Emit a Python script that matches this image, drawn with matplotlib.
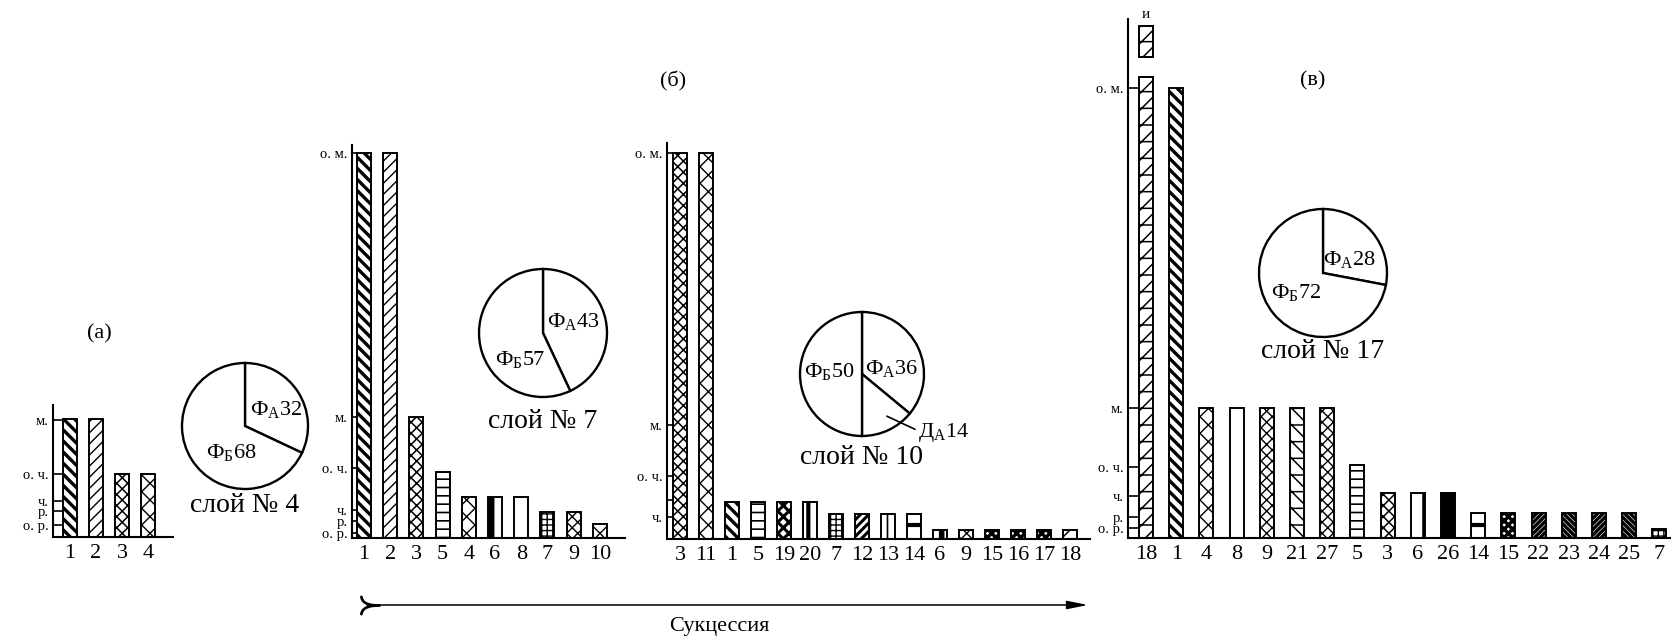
import numpy as np
import matplotlib
matplotlib.use("Agg")
import matplotlib.pyplot as plt

plt.rcParams['font.family'] = 'Liberation Serif'
plt.rcParams['mathtext.fontset'] = 'custom'
plt.rcParams['mathtext.rm'] = 'Liberation Serif'
plt.rcParams['hatch.linewidth'] = 1.2

W, H = 1671, 637

# (а) слой № 4 -- heights on the abundance scale of the panel
a_species = ['1', '2', '3', '4']
a_values = [118, 118, 63, 63]
a_ticks = [117, 63, 36, 26, 12]
a_ticklabels = ['м.', 'о. ч.', 'ч.', 'р.', 'о. р.']

# (б) слой № 7
b7_species = ['1', '2', '3', '5', '4', '6', '8', '7', '9', '10']
b7_values = [385, 385, 121, 66, 41, 41, 41, 26, 26, 14]
b7_ticks = [385, 121, 70, 28, 17, 5]
b7_ticklabels = ['о. м.', 'м.', 'о. ч.', 'ч.', 'р.', 'о. р.']

# (б) слой № 10
b10_species = ['3', '11', '1', '5', '19', '20', '7', '12', '13', '14',
               '6', '9', '15', '16', '17', '18']
b10_values = [386, 386, 37, 37, 37, 37, 25, 25, 25, 25, 9, 9, 9, 9, 9, 9]
b10_ticks = [386, 114, 63, 39, 22]
b10_ticklabels = ['о. м.', 'м.', 'о. ч.', '', 'ч.']

# (в) слой № 17
c_species = ['18', '1', '4', '8', '9', '21', '27', '5', '3', '6', '26',
             '14', '15', '22', '23', '24', '25', '7']
c_values = [461, 450, 130, 130, 130, 130, 130, 73, 45, 45, 45,
            25, 25, 25, 25, 25, 25, 9]
c_ticks = [450, 130, 71, 42, 21, 10]
c_ticklabels = ['о. м.', 'м.', 'о. ч.', 'ч.', 'р.', 'о. р.']
c_extra_bottom = 481   # separate "и" piece of species 18
c_extra_height = 31

# pies: Ф_А / Ф_Б (and Д_А)
pie4 = [32, 68]
pie7 = [43, 57]
pie10 = [36, 14, 50]
pie17 = [28, 72]

# hatch per species
hatches = {
    '1': ('\\\\\\', 2.4), '2': ('///', 1.0), '3': ('xxx', 1.1), '4': ('xx', 1.0),
    '5': ('--', 1.2), '6': ('|', 4.0), '7': ('+++', 1.0), '8': ('', 1.0),
    '9': ('xxx', 1.0), '10': ('xx', 1.0), '11': ('xx', 1.0), '12': ('////', 2.2),
    '13': ('||', 1.2), '14': ('-', 3.0), '15': ('xxxx', 2.4), '16': ('xxxx', 2.4),
    '17': ('xxxx', 2.4), '18': ('//-', 1.1), '19': ('xxx', 2.2), '20': ('|', 3.0),
    '21': ('\\\\-', 1.1), '22': ('//////', 2.4), '23': ('\\\\\\\\\\\\', 2.4),
    '24': ('//////', 2.4), '25': ('\\\\\\\\\\\\', 2.4), '26': ('||||', 3.0),
    '27': ('xxx', 1.0),
}

fig = plt.figure(figsize=(W / 100, H / 100), dpi=100)

ov = fig.add_axes([0, 0, 1, 1])
ov.set_xlim(0, W)
ov.set_ylim(H, 0)
ov.axis('off')


def draw_bar(ax, x, h, w, sp, bottom=0):
    hatch, hlw = hatches[sp]
    b = ax.bar(x, h, w, bottom=bottom, color='white', edgecolor='black',
               linewidth=1.4, hatch=hatch)
    for p in b:
        try:
            p.set_hatch_linewidth(hlw)
        except AttributeError:
            pass
    return b


def bar_panel(x0, top, x1, base, first, step, species, values, ticks, labels, ticklen):
    ax = fig.add_axes([x0 / W, (H - base) / H, (x1 - x0) / W, (base - top) / H])
    x = np.arange(len(species))
    left = -(first - x0) / step
    ax.set_xlim(left, left + (x1 - x0) / step)
    ax.set_ylim(0, base - top)
    w = 14 / step
    for i, sp in enumerate(species):
        draw_bar(ax, x[i], values[i], w, sp)
    ax.set_xticks(x, species)
    ax.tick_params(axis='x', length=0, pad=5, labelsize=16)
    ax.set_yticks(ticks, labels)
    ax.tick_params(axis='y', direction='in', length=ticklen, width=1.2,
                   pad=3, labelsize=10.5)
    for s in ['top', 'right']:
        ax.spines[s].set_visible(False)
    for s in ['left', 'bottom']:
        ax.spines[s].set_linewidth(1.5)
    ax.patch.set_alpha(0)
    return ax, w


def pie_panel(cx, cy, r, values, caption, cap_y):
    k = 1.06
    ax = fig.add_axes([(cx - k * r) / W, (H - cy - k * r) / H, 2 * k * r / W, 2 * k * r / H])
    ax.pie(values, startangle=90, counterclock=False, radius=1,
           colors=['white'] * len(values),
           wedgeprops=dict(edgecolor='black', linewidth=1.7))
    ax.set_xlim(-k, k)
    ax.set_ylim(-k, k)
    ov.text(cx, cap_y, caption, ha='center', va='center', fontsize=20)
    return ax


bar_panel(53, 405, 173, 537, 70, 26.0, a_species, a_values, a_ticks, a_ticklabels, 7)
bar_panel(352, 145, 625, 538, 364, 26.2, b7_species, b7_values, b7_ticks, b7_ticklabels, 3.6)
bar_panel(667, 143, 1090, 539, 680, 26.0, b10_species, b10_values, b10_ticks, b10_ticklabels, 4.3)
axc, wc = bar_panel(1128, 19, 1671, 538, 1146, 30.2, c_species, c_values, c_ticks, c_ticklabels, 8)
draw_bar(axc, 0, c_extra_height, wc, '18', bottom=c_extra_bottom)
axc.text(0, c_extra_bottom + c_extra_height + 12, 'и', ha='center', va='center',
         fontsize=11, clip_on=False)

sub = lambda base, s, n: base + r'$_\mathregular{' + s + '}$' + n

p = pie_panel(245, 426, 63, pie4, 'слой № 4', 505)
p.text(0.49, 0.25, sub('Ф', 'А', '32'), ha='center', va='center', fontsize=16)
p.text(-0.21, -0.43, sub('Ф', 'Б', '68'), ha='center', va='center', fontsize=16)

p = pie_panel(543, 333, 64, pie7, 'слой № 7', 421)
p.text(0.47, 0.17, sub('Ф', 'А', '43'), ha='center', va='center', fontsize=16)
p.text(-0.37, -0.42, sub('Ф', 'Б', '57'), ha='center', va='center', fontsize=16)

p = pie_panel(862, 374, 62, pie10, 'слой № 10', 458)
p.text(0.47, 0.08, sub('Ф', 'А', '36'), ha='center', va='center', fontsize=16)
p.text(-0.53, 0.03, sub('Ф', 'Б', '50'), ha='center', va='center', fontsize=16)
p.annotate(sub('Д', 'А', '14'), xy=(0.40, -0.68), xytext=(0.9, -0.95),
           ha='left', va='center', fontsize=16, annotation_clip=False,
           arrowprops=dict(arrowstyle='-', lw=1.2, color='black',
                           shrinkA=0, shrinkB=0, relpos=(0, 0.6)))

p = pie_panel(1323, 273, 64, pie17, 'слой № 17', 352)
p.text(0.42, 0.20, sub('Ф', 'А', '28'), ha='center', va='center', fontsize=16)
p.text(-0.42, -0.31, sub('Ф', 'Б', '72'), ha='center', va='center', fontsize=16)

# panel letters
ov.text(99, 334, '(а)', ha='center', va='center', fontsize=16)
ov.text(673, 81, '(б)', ha='center', va='center', fontsize=16)
ov.text(1313, 81, '(в)', ha='center', va='center', fontsize=16)

# succession arrow
ov.annotate('', xy=(1088, 605), xytext=(367, 605),
            arrowprops=dict(arrowstyle='-|>,head_width=0.18,head_length=0.9',
                            lw=1.1, color='black', shrinkA=0, shrinkB=0,
                            mutation_scale=14))
ov.plot([370], [605], marker=r'$\succ$', markersize=14, color='black')
ov.text(719, 627, 'Сукцессия', ha='center', va='center', fontsize=16)

fig.savefig('out.png', dpi=100)
